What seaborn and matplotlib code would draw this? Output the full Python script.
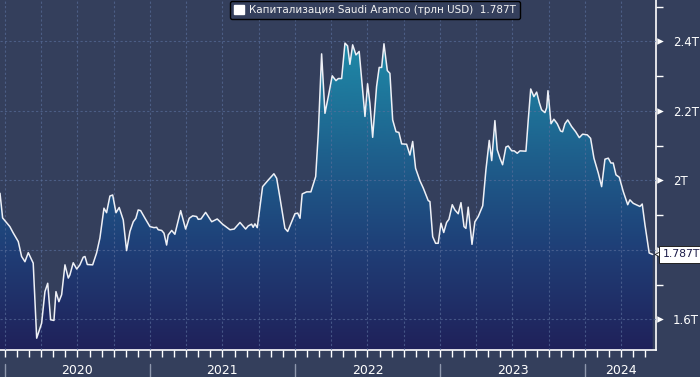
import numpy as np
import pandas as pd
import matplotlib
matplotlib.use("Agg")
import matplotlib.pyplot as plt
import matplotlib.transforms as mtransforms
from matplotlib.colors import LinearSegmentedColormap
from matplotlib.patches import PathPatch, Patch
import seaborn as sns

# Saudi Aramco market cap, trillion USD (dates as fractional years)
years = [
    2019.966, 2019.984, 2020.034, 2020.057, 2020.092, 2020.115, 2020.138, 2020.161,
    2020.195, 2020.219, 2020.253, 2020.276, 2020.295, 2020.315, 2020.338, 2020.352,
    2020.372, 2020.391, 2020.414, 2020.437, 2020.448, 2020.471, 2020.495, 2020.517,
    2020.540, 2020.552, 2020.568, 2020.605, 2020.632, 2020.655, 2020.683, 2020.701,
    2020.724, 2020.743, 2020.766, 2020.788, 2020.816, 2020.839, 2020.862, 2020.885,
    2020.903, 2020.919, 2020.936, 2020.966, 2021.000, 2021.028, 2021.046, 2021.057,
    2021.081, 2021.097, 2021.115, 2021.126, 2021.150, 2021.172, 2021.212, 2021.246,
    2021.271, 2021.295, 2021.322, 2021.333, 2021.352, 2021.384, 2021.426, 2021.464,
    2021.501, 2021.552, 2021.581, 2021.621, 2021.660, 2021.678, 2021.701, 2021.712,
    2021.724, 2021.740, 2021.777, 2021.816, 2021.855, 2021.874, 2021.897, 2021.931,
    2021.950, 2021.977, 2022.000, 2022.019, 2022.035, 2022.050, 2022.081, 2022.110,
    2022.143, 2022.161, 2022.184, 2022.207, 2022.230, 2022.257, 2022.283, 2022.299,
    2022.322, 2022.345, 2022.363, 2022.379, 2022.398, 2022.421, 2022.443, 2022.483,
    2022.501, 2022.517, 2022.536, 2022.563, 2022.581, 2022.598, 2022.614, 2022.637,
    2022.655, 2022.674, 2022.697, 2022.717, 2022.736, 2022.770, 2022.793, 2022.812,
    2022.832, 2022.862, 2022.885, 2022.919, 2022.931, 2022.950, 2022.970, 2022.988,
    2023.007, 2023.026, 2023.046, 2023.062, 2023.085, 2023.103, 2023.126, 2023.145,
    2023.166, 2023.179, 2023.195, 2023.221, 2023.241, 2023.264, 2023.295, 2023.317,
    2023.340, 2023.357, 2023.379, 2023.395, 2023.414, 2023.432, 2023.455, 2023.471,
    2023.495, 2023.512, 2023.533, 2023.552, 2023.593, 2023.609, 2023.626, 2023.648,
    2023.667, 2023.685, 2023.701, 2023.724, 2023.736, 2023.745, 2023.766, 2023.786,
    2023.809, 2023.832, 2023.846, 2023.862, 2023.881, 2023.908, 2023.936, 2023.961,
    2023.984, 2024.016, 2024.039, 2024.062, 2024.092, 2024.115, 2024.138, 2024.161,
    2024.179, 2024.195, 2024.214, 2024.237, 2024.264, 2024.295, 2024.310, 2024.333,
    2024.379, 2024.395, 2024.414, 2024.443, 2024.467,
]
cap = [
    1.963, 1.892, 1.867, 1.849, 1.824, 1.781, 1.766, 1.792,
    1.762, 1.546, 1.589, 1.680, 1.704, 1.599, 1.597, 1.680,
    1.651, 1.671, 1.757, 1.719, 1.728, 1.763, 1.745, 1.757,
    1.779, 1.781, 1.758, 1.757, 1.791, 1.834, 1.920, 1.907,
    1.955, 1.958, 1.907, 1.922, 1.886, 1.798, 1.853, 1.881,
    1.891, 1.915, 1.913, 1.891, 1.867, 1.864, 1.865, 1.858,
    1.856, 1.848, 1.814, 1.843, 1.856, 1.845, 1.913, 1.860,
    1.891, 1.898, 1.896, 1.888, 1.889, 1.908, 1.881, 1.889,
    1.874, 1.858, 1.860, 1.879, 1.860, 1.869, 1.874, 1.865,
    1.875, 1.864, 1.982, 2.001, 2.019, 2.006, 1.949, 1.862,
    1.853, 1.881, 1.904, 1.906, 1.891, 1.961, 1.967, 1.967,
    2.011, 2.136, 2.364, 2.193, 2.241, 2.301, 2.287, 2.293,
    2.293, 2.395, 2.387, 2.334, 2.390, 2.361, 2.371, 2.184,
    2.278, 2.222, 2.124, 2.270, 2.325, 2.325, 2.393, 2.316,
    2.308, 2.174, 2.140, 2.138, 2.105, 2.104, 2.073, 2.112,
    2.035, 1.999, 1.978, 1.942, 1.939, 1.838, 1.819, 1.819,
    1.877, 1.850, 1.879, 1.888, 1.930, 1.915, 1.904, 1.936,
    1.867, 1.862, 1.923, 1.816, 1.881, 1.896, 1.927, 2.030,
    2.115, 2.057, 2.172, 2.088, 2.064, 2.045, 2.096, 2.099,
    2.085, 2.085, 2.078, 2.085, 2.084, 2.174, 2.263, 2.241,
    2.254, 2.224, 2.203, 2.195, 2.209, 2.258, 2.163, 2.176,
    2.163, 2.142, 2.140, 2.163, 2.174, 2.155, 2.140, 2.123,
    2.133, 2.131, 2.121, 2.064, 2.021, 1.982, 2.061, 2.064,
    2.050, 2.050, 2.016, 2.009, 1.968, 1.930, 1.944, 1.934,
    1.925, 1.932, 1.872, 1.791, 1.787,
]
y_ticks = [1.6, 1.8, 2.0, 2.2, 2.4]
y_tick_labels = ["1.6T", "1.8T", "2T", "2.2T", "2.4T"]
year_labels = ["2020", "2021", "2022", "2023", "2024"]
legend_label = "Капитализация Saudi Aramco (трлн USD)  1.787T"
last_label = "1.787T"

BG = "#343f5c"
XMIN, XMAX = 2019.966, 2024.490
YMIN, YMAX = 1.512, 2.519

df = pd.DataFrame({"year": years, "cap": cap})

sns.set_theme(style="dark", rc={"axes.facecolor": BG, "figure.facecolor": BG})
plt.rcParams["font.family"] = ["DejaVu Sans"]

fig, ax = plt.subplots(figsize=(7, 3.77), dpi=100)
fig.subplots_adjust(left=0, right=656 / 700, bottom=27 / 377, top=1)

# gradient area under the line
poly = ax.fill_between(df["year"], df["cap"], YMIN, facecolor="none", edgecolor="none")
clip = PathPatch(poly.get_paths()[0], transform=ax.transData, facecolor="none", edgecolor="none")
ax.add_patch(clip)
cmap = LinearSegmentedColormap.from_list(
    "aramco", [(0, "#20215a"), (0.3, "#1f4078"), (0.55, "#1e5f8c"), (0.88, "#1e8aa8"), (1, "#2298b4")]
)
grad = np.linspace(0, 1, 256).reshape(-1, 1)
im = ax.imshow(grad, extent=[XMIN, XMAX, YMIN, YMAX], origin="lower", aspect="auto",
               cmap=cmap, zorder=1)
im.set_clip_path(clip)

sns.lineplot(data=df, x="year", y="cap", color="#eef0f6", lw=1.1, ax=ax, zorder=4)

ax.set_xlim(XMIN, XMAX)
ax.set_ylim(YMIN, YMAX)
ax.set_xlabel("")
ax.set_ylabel("")

# spines
for side in ["top", "left"]:
    ax.spines[side].set_visible(False)
for side in ["right", "bottom"]:
    ax.spines[side].set_visible(True)
    ax.spines[side].set_color("white")
    ax.spines[side].set_linewidth(1.2)

# y axis on the right
ax.yaxis.tick_right()
ax.set_yticks(y_ticks)
ax.set_yticklabels(y_tick_labels)
ax.set_yticks(np.arange(1.7, 2.6, 0.2), minor=True)
ax.tick_params(axis="y", which="major", length=0, pad=12, labelcolor="white", labelsize=8.5,
               right=True, left=False)
ax.tick_params(axis="y", which="minor", length=5, width=1, color="white", direction="out",
               right=True, left=False)
trans_y = mtransforms.blended_transform_factory(ax.transAxes, ax.transData)
ax.scatter(np.full(len(y_ticks), 1.006), y_ticks, marker=">", s=22, color="white",
           linewidths=0, transform=trans_y, clip_on=False, zorder=6)

# x axis: quarters as major (grid), months as minor
ax.set_xticks(np.arange(2020, 2024.5, 0.25))
ax.set_xticks(np.arange(2020, 2024.45, 1 / 12), minor=True)
ax.set_xticklabels([])
ax.tick_params(axis="x", which="both", length=5, width=1, color="white", direction="out",
               bottom=True)

ax.set_axisbelow(False)
ax.grid(True, which="major", color="#5a6f9c", linestyle=(0, (2, 2)), linewidth=0.8, alpha=0.65)

# year separators and labels below the axis
trans_x = mtransforms.blended_transform_factory(ax.transData, ax.transAxes)
bounds = [2020, 2021, 2022, 2023, 2024]
for b in bounds:
    ax.plot([b, b], [-0.04, -0.08], color="#8e97ad", lw=1, transform=trans_x, clip_on=False)
centers = [2020.5, 2021.5, 2022.5, 2023.5, (2024 + XMAX) / 2]
for c, lab in zip(centers, year_labels):
    ax.text(c, -0.06, lab, transform=trans_x, ha="center", va="center", color="white",
            fontsize=9)

# last value tag (covers the 1.8T label, as in the original)
ax.scatter([1.004], [cap[-1]], marker="<", s=42, color="white", edgecolors="#222",
           linewidths=0.6, transform=trans_y, clip_on=False, zorder=7)
ax.text(1.0105, cap[-1], last_label, transform=trans_y, ha="left", va="center",
        color="#1b1b48", fontsize=7.8, clip_on=False, zorder=8,
        bbox=dict(boxstyle="square,pad=0.32", fc="white", ec="#222", lw=0.7))

# legend
leg = ax.legend(handles=[Patch(facecolor="white", edgecolor="white")], labels=[legend_label],
                loc="upper center", bbox_to_anchor=(375 / 656, 1.0), frameon=True,
                fancybox=True, facecolor=BG, edgecolor="black", framealpha=1, fontsize=7.5,
                labelcolor="#f2f2f2", handlelength=0.9, handleheight=0.9,
                handletextpad=0.5, borderpad=0.4, borderaxespad=0.1)
leg.get_frame().set_linewidth(1.0)

plt.savefig("out.png", dpi=100, facecolor=BG)
plt.close()
